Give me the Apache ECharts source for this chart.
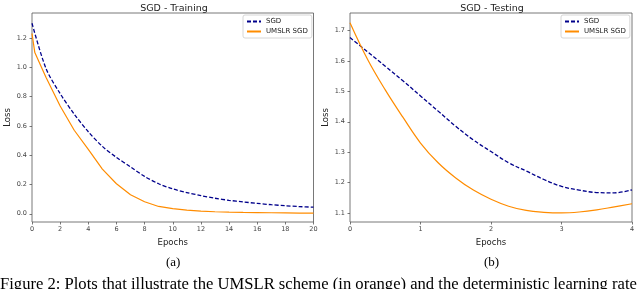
<!DOCTYPE html>
<html>
<head>
<meta charset="utf-8">
<script src="https://cdn.jsdelivr.net/npm/echarts@6/dist/echarts.min.js"></script>
<style>
html,body{margin:0;padding:0;background:#fff;}
#chart{width:640px;height:289px;}
</style>
</head>
<body>
<div id="chart"></div>
<script>
// ---- Data ----
const trainEpochsSGD = [0,1,2,3,4,5,6,7,8,9,10,11,12,13,14,15,16,17,18,19,20];
const trainSGD = [1.30,0.99,0.82,0.68,0.56,0.46,0.385,0.32,0.255,0.205,0.17,0.145,0.124,0.106,0.092,0.081,0.071,0.062,0.055,0.049,0.045];
const trainEpochsUMSLR = [0,0.2,1,2,3,4,5,6,7,8,9,10,11,12,13,14,15,16,17,18,19,20];
const trainUMSLR = [1.23,1.10,0.93,0.735,0.57,0.44,0.305,0.205,0.13,0.082,0.05,0.035,0.025,0.018,0.014,0.011,0.009,0.008,0.007,0.006,0.005,0.005];
const testEpochs = [0,0.25,0.5,0.75,1,1.25,1.5,1.75,2,2.25,2.5,2.75,3,3.25,3.5,3.75,4];
const testSGD = [1.677,1.63,1.583,1.535,1.485,1.435,1.385,1.34,1.302,1.265,1.238,1.21,1.187,1.175,1.167,1.166,1.176];
const testUMSLR = [1.726,1.605,1.505,1.415,1.33,1.265,1.215,1.175,1.145,1.122,1.108,1.102,1.10,1.103,1.11,1.12,1.13];
const trainYTicks = [0.0,0.2,0.4,0.6,0.8,1.0,1.2];
const testYTicks = [1.1,1.2,1.3,1.4,1.5,1.6,1.7];
const seriesNames = ['SGD','UMSLR SGD'];
const titles = ['SGD - Training','SGD - Testing'];
const subLabels = ['(a)','(b)'];
const captionText = 'Figure 2: Plots that illustrate the UMSLR scheme (in orange) and the deterministic learning rate';

const SGD_COLOR = '#00008b';
const UMS_COLOR = '#ff8c00';
const AX = '#555';
const FONT = 'DejaVu Sans';

function pairs(xs, ys){ return xs.map((x,i)=>[x, ys[i]]); }

function xAxis(gridIndex, max, interval){
  return {
    type:'value', gridIndex, min:0, max, interval,
    name:'Epochs', nameLocation:'middle', nameGap:12,
    nameTextStyle:{fontFamily:FONT, fontSize:8.5, color:'#222'},
    axisLine:{show:false, onZero:false}, splitLine:{show:false},
    axisTick:{show:true, length:2.5, lineStyle:{color:AX, width:0.8}},
    axisLabel:{fontFamily:FONT, fontSize:6.5, color:'#444', margin:4, formatter:v=>String(v)}
  };
}
function yAxis(gridIndex, min, max, ticks){
  return {
    type:'value', gridIndex, min, max,
    name:'Loss', nameLocation:'middle', nameGap:15,
    nameTextStyle:{fontFamily:FONT, fontSize:8.5, color:'#222'},
    axisLine:{show:false, onZero:false}, splitLine:{show:false},
    axisTick:{show:true, length:2.5, customValues:ticks, lineStyle:{color:AX, width:0.8}},
    axisLabel:{fontFamily:FONT, fontSize:6.5, color:'#444', margin:5, customValues:ticks, formatter:v=>v.toFixed(1)}
  };
}
function legend(left){
  return {
    left, top:15, orient:'vertical', data:seriesNames,
    backgroundColor:'#fff', borderColor:'#ccc', borderWidth:0.8, borderRadius:2,
    padding:[3,4,3,3], itemGap:3, itemWidth:14, itemHeight:6,
    itemStyle:{opacity:0},
    textStyle:{fontFamily:FONT, fontSize:7, color:'#222'},
    selectedMode:false
  };
}

const option = {
  animation:false,
  backgroundColor:'#fff',
  title:[
    {text:titles[0], left:169, top:-1, textAlign:'center', textStyle:{fontFamily:FONT, fontSize:9.5, fontWeight:'normal', color:'#222'}},
    {text:titles[1], left:487, top:-1, textAlign:'center', textStyle:{fontFamily:FONT, fontSize:9.5, fontWeight:'normal', color:'#222'}}
  ],
  legend:[legend(243), legend(561)],
  grid:[
    {left:32, right:326.5, top:13, bottom:67, show:true, borderColor:AX, borderWidth:0.8, backgroundColor:'transparent'},
    {left:350, right:8, top:13, bottom:67, show:true, borderColor:AX, borderWidth:0.8, backgroundColor:'transparent'}
  ],
  xAxis:[xAxis(0,20,2), xAxis(1,4,1)],
  yAxis:[yAxis(0,-0.056,1.37,trainYTicks), yAxis(1,1.07,1.758,testYTicks)],
  series:[
    {name:seriesNames[0], type:'line', xAxisIndex:0, yAxisIndex:0, data:pairs(trainEpochsSGD,trainSGD), showSymbol:false, symbol:'none', smooth:0.3, lineStyle:{color:SGD_COLOR, width:1.3, type:[4,2]}, itemStyle:{color:SGD_COLOR}},
    {name:seriesNames[1], type:'line', xAxisIndex:0, yAxisIndex:0, data:pairs(trainEpochsUMSLR,trainUMSLR), showSymbol:false, symbol:'none', lineStyle:{color:UMS_COLOR, width:1.2}, itemStyle:{color:UMS_COLOR}},
    {name:seriesNames[0], type:'line', xAxisIndex:1, yAxisIndex:1, data:pairs(testEpochs,testSGD), showSymbol:false, symbol:'none', smooth:0.4, lineStyle:{color:SGD_COLOR, width:1.3, type:[4,2]}, itemStyle:{color:SGD_COLOR}},
    {name:seriesNames[1], type:'line', xAxisIndex:1, yAxisIndex:1, data:pairs(testEpochs,testUMSLR), showSymbol:false, symbol:'none', smooth:0.4, lineStyle:{color:UMS_COLOR, width:1.2}, itemStyle:{color:UMS_COLOR}}
  ],
  graphic:[
    {type:'text', left:166, top:256, style:{text:subLabels[0], font:'13px "Liberation Serif"', fill:'#000'}},
    {type:'text', left:484, top:256, style:{text:subLabels[1], font:'13px "Liberation Serif"', fill:'#000'}},
    {type:'text', left:0, top:276, style:{text:captionText, font:'16.6px "Liberation Serif"', fill:'#000'}}
  ]
};

const chart = echarts.init(document.getElementById('chart'), null, {renderer:'canvas'});
chart.setOption(option);
</script>
</body>
</html>
